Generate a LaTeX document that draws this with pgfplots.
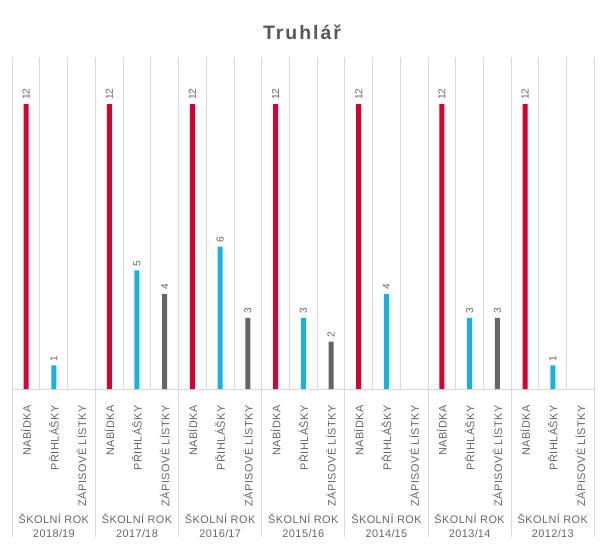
\documentclass[border=0pt]{standalone}
\usepackage{fontspec}
\setmainfont{Liberation Sans}
\newfontfamily\labfont[LetterSpace=4]{Liberation Sans}
\newfontfamily\ttlfont[LetterSpace=10]{Liberation Sans}
\usepackage{pgfplots}
\usepackage{pgfplotstable}
\pgfplotsset{compat=1.18}

\definecolor{cred}{HTML}{D8002E}
\definecolor{cblue}{HTML}{14B2E4}
\definecolor{cgray}{HTML}{666666}
\definecolor{gridc}{HTML}{D9D9D9}
\definecolor{txt}{HTML}{666666}

% x = slot centre (3 slots per school year)
\pgfplotstableread{
x y
0.5 12
3.5 12
6.5 12
9.5 12
12.5 12
15.5 12
18.5 12
}\nabidka
\pgfplotstableread{
x y
1.5 1
4.5 5
7.5 6
10.5 3
13.5 4
16.5 3
19.5 1
}\prihlasky
\pgfplotstableread{
x y
5.5 4
8.5 3
11.5 2
17.5 3
}\zapisove

\begin{document}
\begin{tikzpicture}
\useasboundingbox (-9.2pt,-123pt) rectangle (444.5pt,291.75pt);
\begin{axis}[
    scale only axis,
    width=436.5pt, height=249.2pt,
    xmin=0, xmax=21, ymin=0, ymax=14,
    enlargelimits=false,
    axis x line*=bottom, axis y line=none,
    x axis line style={draw=gridc, line width=0.75pt},
    xtick={0.5,1.5,...,20.5},
    xticklabels={NABÍDKA,PŘIHLÁŠKY,ZÁPISOVÉ LÍSTKY,NABÍDKA,PŘIHLÁŠKY,ZÁPISOVÉ LÍSTKY,
      NABÍDKA,PŘIHLÁŠKY,ZÁPISOVÉ LÍSTKY,NABÍDKA,PŘIHLÁŠKY,ZÁPISOVÉ LÍSTKY,
      NABÍDKA,PŘIHLÁŠKY,ZÁPISOVÉ LÍSTKY,NABÍDKA,PŘIHLÁŠKY,ZÁPISOVÉ LÍSTKY,
      NABÍDKA,PŘIHLÁŠKY,ZÁPISOVÉ LÍSTKY},
    xticklabel style={rotate=90, anchor=east, inner sep=0pt,
      font=\labfont\fontsize{8.2}{9}\selectfont, color=txt},
    xticklabel shift=12pt,
    major tick length=0pt, minor tick length=0pt,
    minor xtick={0,1,...,21},
    xminorgrids,
    minor grid style={draw=gridc, line width=0.75pt},
    ybar, bar width=3.75pt,
    nodes near coords,
    nodes near coords style={rotate=90, anchor=west, inner sep=3pt,
      font=\fontsize{7.6}{8}\selectfont, color=txt},
    /pgf/number format/assume math mode=true,
    clip=false,
  ]
  \addplot[fill=cred, draw=none, bar shift=0pt] table {\nabidka};
  \addplot[fill=cblue, draw=none, bar shift=0pt] table {\prihlasky};
  \addplot[fill=cgray, draw=none, bar shift=0pt] table {\zapisove};

  \foreach \g in {0,3,...,21} {
    \edef\tmp{\noexpand\draw[gridc, line width=0.75pt] (axis cs:\g,0) -- ++(0,-111pt);}
    \tmp
  }
  \foreach \c/\yr in {1.5/2018\slash19, 4.5/2017\slash18, 7.5/2016\slash17,
      10.5/2015\slash16, 13.5/2014\slash15, 16.5/2013\slash14, 19.5/2012\slash13} {
    \edef\tmp{\noexpand\node[anchor=base, inner sep=0pt, color=txt,
      font=\noexpand\labfont\noexpand\fontsize{8.2}{9}\noexpand\selectfont]
      at ([yshift=-100.5pt]axis cs:\c,0) {ŠKOLNÍ ROK};}
    \tmp
    \edef\tmp{\noexpand\node[anchor=base, inner sep=0pt, color=txt,
      font=\noexpand\labfont\noexpand\fontsize{8.2}{9}\noexpand\selectfont]
      at ([yshift=-111pt]axis cs:\c,0) {\yr};}
    \tmp
  }
\end{axis}
\node[font=\ttlfont\bfseries\fontsize{14.6}{17}\selectfont, color=cgray!85!black]
  at (217.3pt,267.75pt) {Truhlář};
\end{tikzpicture}
\end{document}
